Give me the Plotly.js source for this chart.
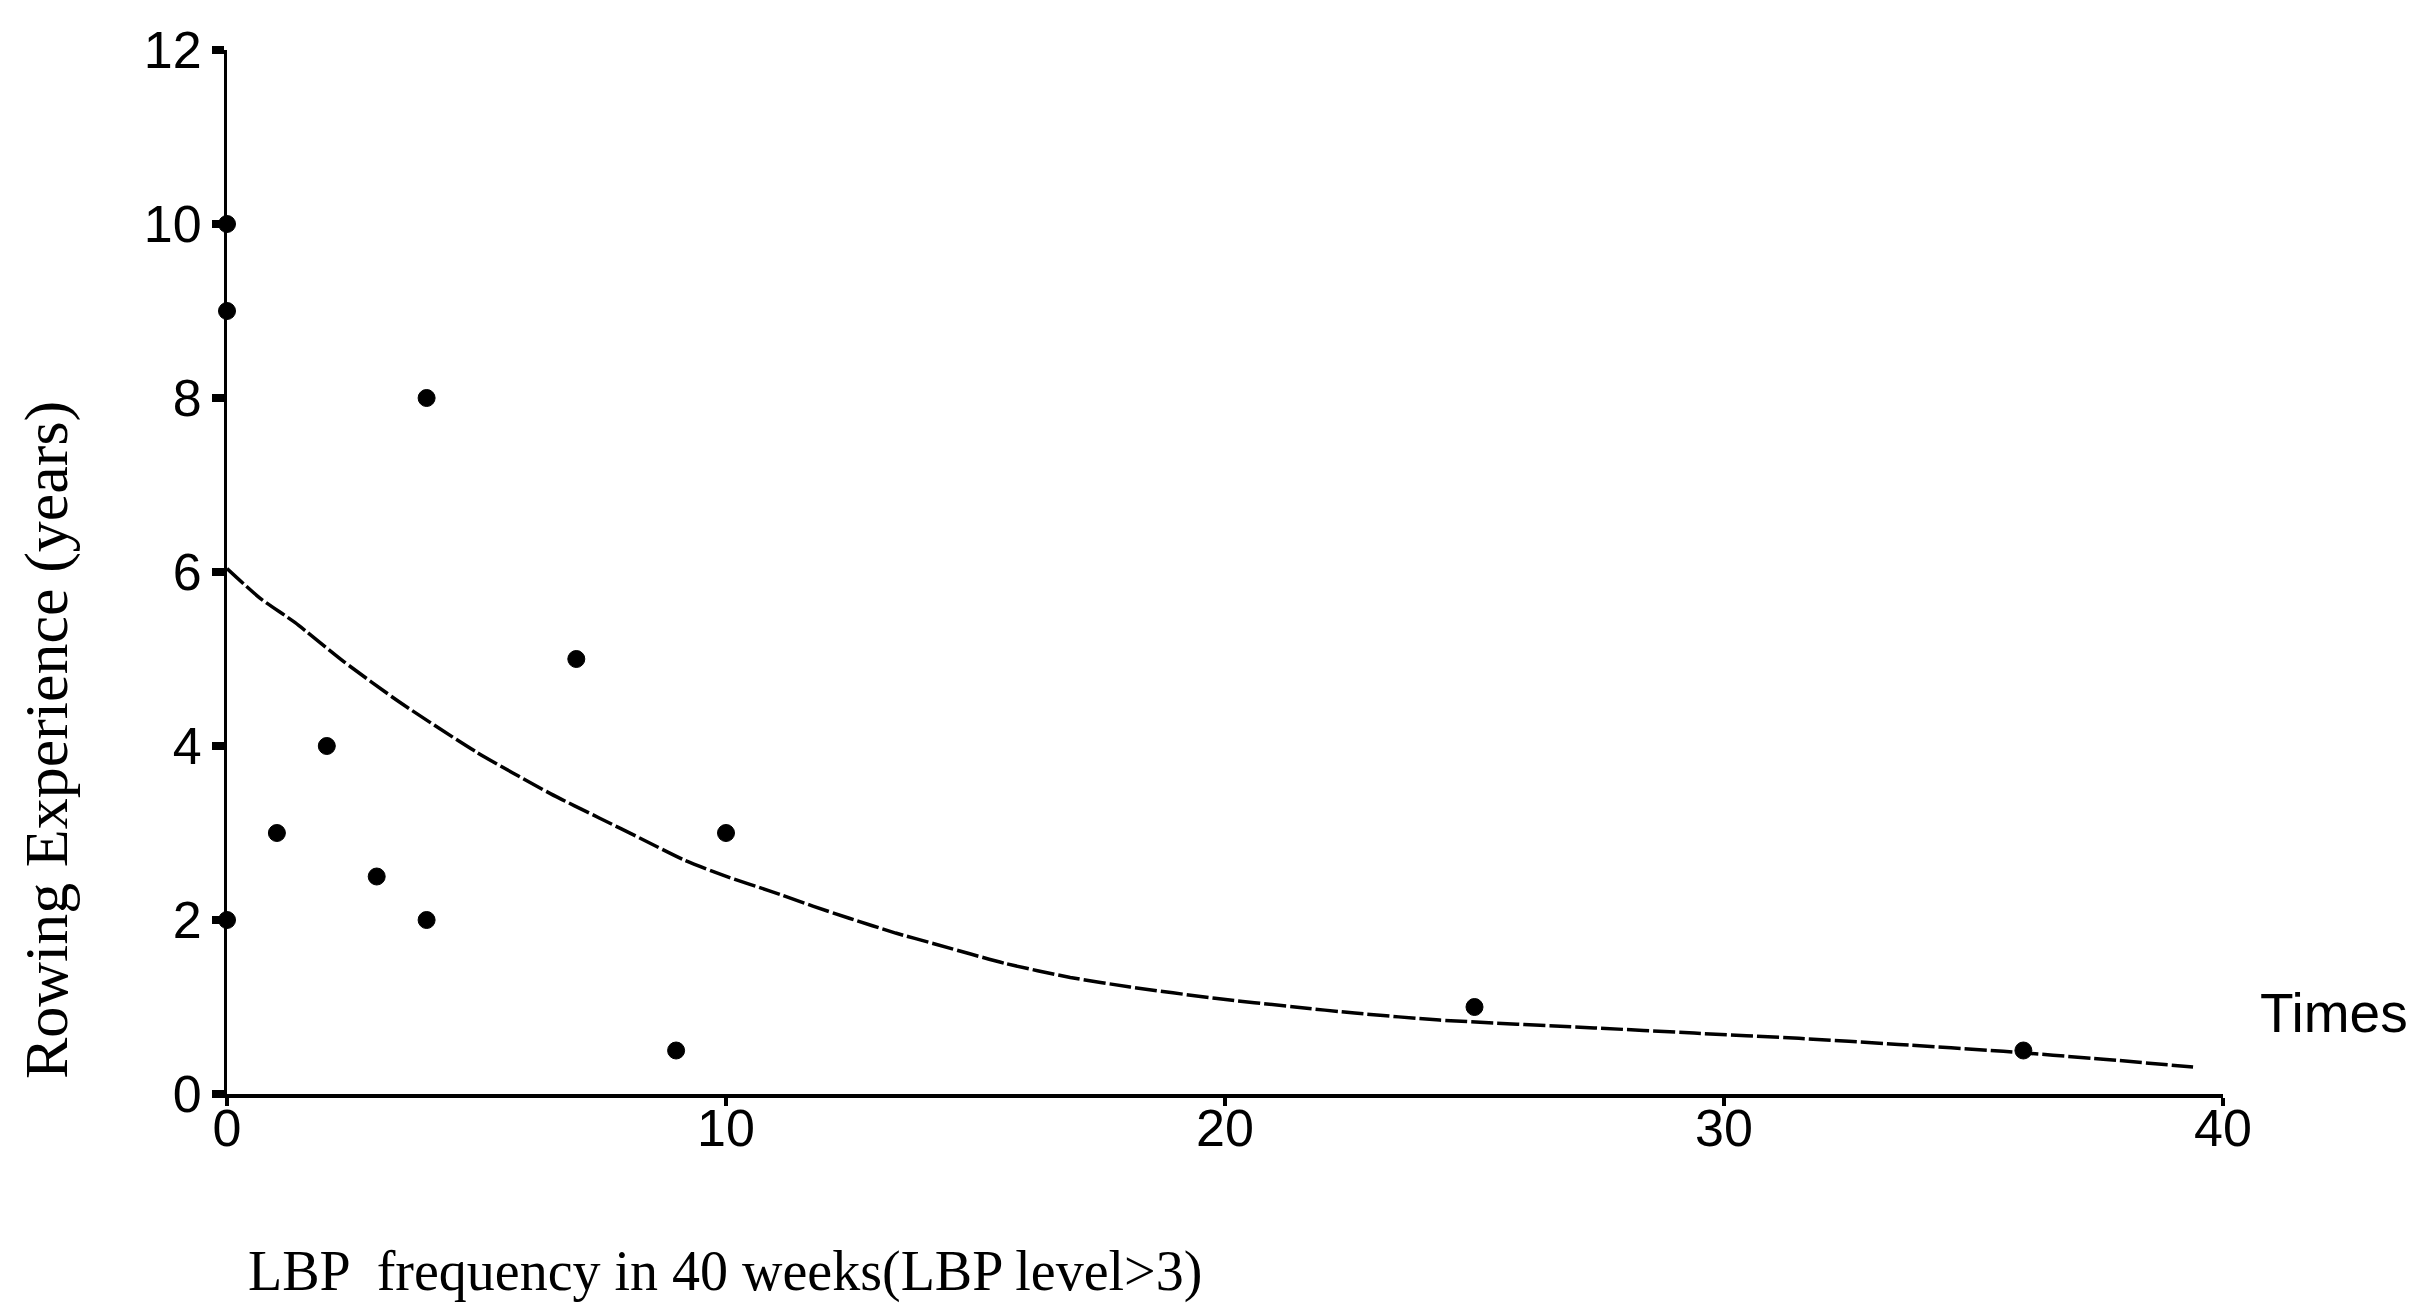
<!DOCTYPE html>
<html>
<head>
<meta charset="utf-8">
<script src="https://cdn.plot.ly/plotly-3.0.1.min.js"></script>
<style>
  html, body { margin: 0; padding: 0; background: #ffffff; }
  #chart { width: 2415px; height: 1310px; }
</style>
</head>
<body>
<div id="chart"></div>
<script>
// Observed cases: LBP frequency (times) vs rowing experience (years)
const lbpTimes   = [0, 0, 0, 1, 2, 3, 4, 4, 7, 9, 10, 25, 36];
const rowingYears = [10, 9, 2, 3, 4, 2.5, 8, 2, 5, 0.5, 3, 1, 0.5];

// Fitted curve
const fitTimes = [0, 0.66, 1.36, 2.34, 3.47, 5.0, 6.49, 7.47, 8.28, 9.16, 10.06, 10.9, 11.74, 12.47, 13.4, 14.15, 15.6, 16.9, 18.1, 19.8, 21.4, 22.6, 24.3, 27.4, 29.4, 31.5, 33.5, 35.6, 37.6, 39.4];
const fitYears = [6.04, 5.70, 5.42, 4.97, 4.50, 3.93, 3.45, 3.17, 2.94, 2.69, 2.49, 2.33, 2.16, 2.02, 1.85, 1.73, 1.50, 1.34, 1.23, 1.10, 1.00, 0.93, 0.85, 0.76, 0.70, 0.64, 0.57, 0.49, 0.40, 0.31];

// Tick labels
const xTicks = [0, 10, 20, 30, 40];
const yTicks = [0, 2, 4, 6, 8, 10, 12];

const xTitle = "LBP  frequency in 40 weeks(LBP level>3)";
const yTitle = "Rowing Experience (years)";
const xUnit = "Times";

const sans = "Liberation Sans, Arial, sans-serif";
const serif = "Liberation Serif, Times New Roman, serif";

const traces = [
  {
    x: fitTimes, y: fitYears, type: "scatter", mode: "lines",
    line: { color: "#000", width: 3.5, shape: "spline", smoothing: 0.6, dash: "22px,4px" },
    hoverinfo: "skip", showlegend: false
  },
  {
    x: lbpTimes, y: rowingYears, type: "scatter", mode: "markers",
    marker: { symbol: "circle", size: 17, color: "#000", line: { color: "#000", width: 1 } },
    cliponaxis: false, showlegend: false
  }
];

const layout = {
  width: 2415, height: 1310,
  paper_bgcolor: "#ffffff", plot_bgcolor: "#ffffff",
  margin: { l: 227, r: 192, t: 50, b: 216 },
  showlegend: false,
  xaxis: {
    range: [0, 40], tickvals: xTicks, ticktext: xTicks.map(String),
    showgrid: false, zeroline: false,
    showline: true, linecolor: "#000", linewidth: 4,
    ticks: "outside", ticklen: 8, tickwidth: 4, tickcolor: "#000",
    ticklabelstandoff: -22,
    tickfont: { family: sans, size: 52, color: "#000" },
    fixedrange: true
  },
  yaxis: {
    range: [0, 12], tickvals: yTicks, ticktext: yTicks.map(String),
    showgrid: false, zeroline: false,
    showline: true, linecolor: "#000", linewidth: 3,
    ticks: "outside", ticklen: 12, tickwidth: 8, tickcolor: "#000",
    tickfont: { family: sans, size: 52, color: "#000" },
    fixedrange: true
  },
  annotations: [
    {
      text: yTitle, xref: "paper", yref: "paper",
      x: -0.0907, y: 0.339, xanchor: "center", yanchor: "middle",
      textangle: -90, showarrow: false,
      font: { family: serif, size: 62, color: "#000" }
    },
    {
      text: xTitle, xref: "paper", yref: "paper",
      x: 0.0095, y: -0.2025, xanchor: "left", yanchor: "bottom",
      showarrow: false,
      font: { family: serif, size: 56, color: "#000" }
    },
    {
      text: xUnit, xref: "paper", yref: "paper",
      x: 1.0175, y: 0.078, xanchor: "left", yanchor: "middle",
      showarrow: false,
      font: { family: sans, size: 55, color: "#000" }
    }
  ]
};

Plotly.newPlot("chart", traces, layout, { staticPlot: true, displayModeBar: false });
</script>
</body>
</html>
